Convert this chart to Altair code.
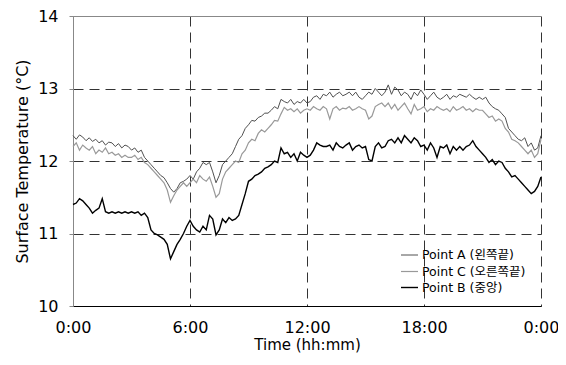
import altair as alt
import pandas as pd

# Readings every 10 minutes, 0:00 -> 24:00 (145 values per series)
point_a = [
    12.35, 12.30, 12.36, 12.33, 12.28, 12.32,
    12.27, 12.30, 12.25, 12.28, 12.22, 12.26,
    12.25, 12.20, 12.24, 12.18, 12.22, 12.20,
    12.15, 12.18, 12.12, 12.15, 12.05, 12.00,
    11.95, 11.90, 11.85, 11.80, 11.77, 11.70,
    11.62, 11.57, 11.62, 11.70, 11.72, 11.75,
    11.80, 11.75, 11.85, 11.90, 11.98, 11.95,
    11.98, 11.85, 11.70, 11.80, 11.95, 12.00,
    12.05, 12.10, 12.20, 12.30, 12.35, 12.45,
    12.50, 12.56, 12.55, 12.60, 12.62, 12.66,
    12.66, 12.70, 12.75, 12.72, 12.85, 12.82,
    12.80, 12.85, 12.78, 12.82, 12.80, 12.85,
    12.80, 12.82, 12.88, 12.90, 12.85, 12.92,
    12.90, 12.95, 12.88, 12.92, 12.95, 12.90,
    12.92, 12.95, 12.90, 12.95, 12.88, 12.85,
    12.90, 12.95, 12.92, 13.00, 12.95, 12.90,
    12.95, 13.05, 12.92, 13.02, 12.98, 12.90,
    12.95, 12.92, 12.85, 12.95, 12.90, 12.98,
    12.92, 12.85, 12.90, 12.95, 12.88, 12.85,
    12.88, 12.92, 12.85, 12.90, 12.88, 12.92,
    12.90, 12.88, 12.92, 12.88, 12.85, 12.88,
    12.85, 12.88, 12.80, 12.75, 12.72, 12.70,
    12.65, 12.60, 12.45, 12.40, 12.35, 12.30,
    12.28, 12.32, 12.20, 12.25, 12.15, 12.18,
    12.35,
]
point_c = [
    12.20, 12.25, 12.15, 12.22, 12.18, 12.15,
    12.20, 12.10, 12.15, 12.12, 12.18, 12.10,
    12.12, 12.08, 12.10, 12.05, 12.08, 12.05,
    12.05, 12.08, 12.02, 12.05, 11.98, 11.95,
    11.90, 11.85, 11.80, 11.75, 11.70, 11.60,
    11.43, 11.52, 11.60, 11.65, 11.70, 11.65,
    11.70, 11.75, 11.70, 11.80, 11.75, 11.72,
    11.78, 11.65, 11.50, 11.55, 11.75, 11.85,
    11.90, 11.95, 12.00, 11.98, 12.10, 12.15,
    12.25, 12.30, 12.28, 12.38, 12.43, 12.40,
    12.45, 12.50, 12.56, 12.55, 12.65, 12.74,
    12.70, 12.72, 12.68, 12.72, 12.66, 12.70,
    12.72, 12.70, 12.75, 12.72, 12.70, 12.75,
    12.72, 12.58, 12.72, 12.75, 12.70, 12.73,
    12.72, 12.75, 12.70, 12.72, 12.75, 12.72,
    12.70, 12.58, 12.62, 12.75, 12.78, 12.80,
    12.75, 12.80, 12.72, 12.78, 12.70, 12.75,
    12.80, 12.72, 12.65, 12.78, 12.70, 12.72,
    12.75, 12.68, 12.72, 12.70, 12.75, 12.72,
    12.70, 12.72, 12.68, 12.75, 12.70, 12.72,
    12.75, 12.70, 12.72, 12.68, 12.72, 12.70,
    12.70, 12.65, 12.60, 12.62, 12.55, 12.58,
    12.55, 12.45, 12.40, 12.30, 12.28, 12.25,
    12.20, 12.15, 12.10, 12.15, 12.05, 12.10,
    12.30,
]
point_b = [
    11.40, 11.42, 11.48, 11.45, 11.40, 11.35,
    11.28, 11.32, 11.35, 11.48, 11.30, 11.28,
    11.30, 11.28, 11.30, 11.28, 11.30, 11.28,
    11.30, 11.28, 11.30, 11.25, 11.28, 11.22,
    11.05, 11.00, 10.98, 10.95, 10.92, 10.85,
    10.65, 10.75, 10.85, 10.92, 11.00, 11.10,
    11.18, 11.10, 11.05, 11.02, 11.10, 11.05,
    11.25, 11.20, 10.98, 11.05, 11.20, 11.15,
    11.22, 11.18, 11.20, 11.25, 11.40, 11.55,
    11.72, 11.75, 11.80, 11.82, 11.85, 11.90,
    11.92, 11.95, 12.00, 11.98, 12.18, 12.10,
    12.12, 12.05, 12.10, 12.00, 12.12, 12.08,
    12.05, 12.08, 12.15, 12.25, 12.22, 12.20,
    12.20, 12.22, 12.15, 12.25, 12.20, 12.18,
    12.22, 12.25, 12.15, 12.20, 12.22, 12.18,
    12.20, 12.02, 12.00, 12.20, 12.25, 12.18,
    12.20, 12.28, 12.30, 12.25, 12.32, 12.25,
    12.35, 12.30, 12.25, 12.32, 12.28, 12.20,
    12.22, 12.15, 12.25, 12.18, 12.05, 12.20,
    12.18, 12.22, 12.10, 12.20, 12.15, 12.20,
    12.15, 12.20, 12.22, 12.28, 12.20, 12.15,
    12.10, 12.05, 11.98, 12.02, 11.95, 12.00,
    11.98, 11.90, 11.85, 11.78, 11.80, 11.75,
    11.70, 11.65, 11.60, 11.55, 11.58, 11.65,
    11.78,
]

series_names = ["Point A (왼쪽끝)", "Point C (오른쪽끝)", "Point B (중앙)"]
series_colors = ["#505050", "#999999", "#000000"]
series_widths = [1.0, 1.4, 2.0]
x_ticks = [0, 6, 12, 18, 24]
y_ticks = [10, 11, 12, 13, 14]

rows = []
for name, vals in zip(series_names, [point_a, point_c, point_b]):
    for i, v in enumerate(vals):
        rows.append({"hour": i / 6, "temp": v, "series": name})
df = pd.DataFrame(rows)

FONT = "DejaVu Sans, Noto Sans CJK KR"

legend_opts = dict(title=None, orient="none", legendX=327, legendY=230,
                   symbolType="stroke", symbolSize=289, labelFontSize=12.5,
                   labelOffset=3, rowPadding=0, padding=0)

chart = alt.Chart(df).mark_line().encode(
    x=alt.X("hour:Q", scale=alt.Scale(domain=[0, 24], nice=False),
            axis=alt.Axis(values=x_ticks, title="Time (hh:mm)",
                          labelExpr="(datum.value % 24) + ':00'",
                          grid=True, gridDash=[10, 6], gridColor="#333333",
                          gridOpacity=1, ticks=False, domainColor="#000000",
                          labelPadding=13, titlePadding=2, labelFontSize=16,
                          titleFontSize=15, labelFlush=False)),
    y=alt.Y("temp:Q", scale=alt.Scale(domain=[10, 14], nice=False),
            axis=alt.Axis(values=y_ticks, title="Surface Temperature (°C)",
                          grid=True,
                          gridDash={"condition": {"test": "datum.value == 14", "value": []},
                                    "value": [10, 6]},
                          gridColor={"condition": {"test": "datum.value == 14", "value": "#888888"},
                                     "value": "#333333"},
                          gridOpacity=1, tickSize=4, tickColor="#888888",
                          domainColor="#888888", labelPadding=11,
                          titlePadding=7, labelFontSize=16, titleFontSize=16)),
    color=alt.Color("series:N", sort=series_names,
                    scale=alt.Scale(domain=series_names, range=series_colors),
                    legend=alt.Legend(**legend_opts)),
    strokeWidth=alt.StrokeWidth("series:N", sort=series_names,
                                scale=alt.Scale(domain=series_names, range=series_widths),
                                legend=alt.Legend(**legend_opts)),
    order=alt.Order("hour:Q"),
).properties(
    width=468, height=290,
    autosize=alt.AutoSizeParams(type="none"),
    padding={"left": 65, "top": 8, "right": 17, "bottom": 51},
).configure(font=FONT).configure_view(strokeWidth=0).configure_axis(
    labelColor="#000000", titleColor="#000000", titleFontWeight="normal",
    labelFont=FONT, titleFont=FONT,
).configure_legend(labelFont=FONT, labelColor="#000000")

chart.save("out.html", embed_options={"renderer": "svg", "actions": False})
